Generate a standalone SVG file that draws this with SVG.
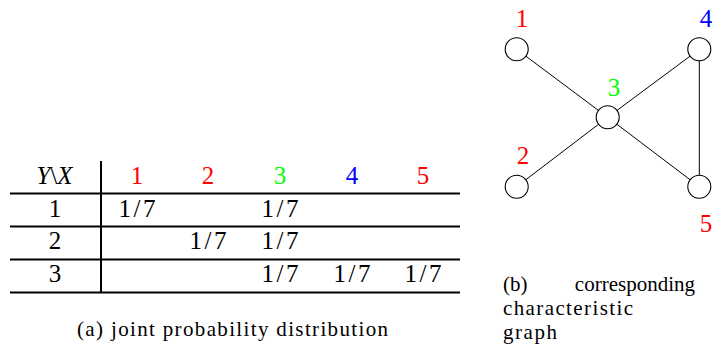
<svg xmlns="http://www.w3.org/2000/svg" width="712" height="350" viewBox="0 0 712 350" font-family="'Liberation Serif', 'DejaVu Serif', serif">
<style>
text{font-family:'Liberation Serif','DejaVu Serif',serif;fill:#000}
.t{font-size:25px;text-anchor:middle}
.c{font-size:21px}
.rule{stroke:#000;stroke-width:2}
.node{fill:#fff;stroke:#000;stroke-width:1.1}
.edge{stroke:#000;stroke-width:1}
.red{fill:#ff0000}.green{fill:#00ff00}.blue{fill:#0000ff}
</style>
<g id="table">
<line class="rule" x1="10" y1="193.5" x2="460" y2="193.5"/>
<line class="rule" x1="10" y1="226.5" x2="460" y2="226.5"/>
<line class="rule" x1="10" y1="259.5" x2="460" y2="259.5"/>
<line class="rule" x1="10" y1="292.5" x2="460" y2="292.5"/>
<line class="rule" x1="101" y1="161" x2="101" y2="293"/>
<text class="t" x="54.5" y="184" font-size="27"><tspan font-style="italic">Y</tspan>\<tspan font-style="italic">X</tspan></text>
<text class="t red" x="137" y="184">1</text>
<text class="t red" x="208" y="184">2</text>
<text class="t green" x="280" y="184">3</text>
<text class="t blue" x="352" y="184">4</text>
<text class="t red" x="423" y="184">5</text>
<text class="t" x="55" y="217">1</text>
<text class="t" x="55" y="249">2</text>
<text class="t" x="55" y="282">3</text>
<text class="t" x="137" y="217" textLength="37">1/7</text>
<text class="t" x="280" y="217" textLength="37">1/7</text>
<text class="t" x="208" y="249" textLength="37">1/7</text>
<text class="t" x="280" y="249" textLength="37">1/7</text>
<text class="t" x="280" y="282" textLength="37">1/7</text>
<text class="t" x="352" y="282" textLength="37">1/7</text>
<text class="t" x="423" y="282" textLength="37">1/7</text>
<text class="c" x="77" y="336" textLength="311">(a) joint probability distribution</text>
</g>
<g id="connectors">
<line class="edge" x1="516.7" y1="49.3" x2="607.7" y2="117.3"/>
<line class="edge" x1="516.7" y1="186.7" x2="607.7" y2="117.3"/>
<line class="edge" x1="699.3" y1="49.3" x2="607.7" y2="117.3"/>
<line class="edge" x1="699.3" y1="186.7" x2="607.7" y2="117.3"/>
<line class="edge" x1="699.3" y1="49.3" x2="699.3" y2="186.7"/>
</g>
<g id="node1"><circle class="node" cx="516.7" cy="49.3" r="11.5"/><text class="t red" x="522" y="27">1</text></g>
<g id="node2"><circle class="node" cx="516.7" cy="186.7" r="11.5"/><text class="t red" x="523" y="164">2</text></g>
<g id="node3"><circle class="node" cx="607.7" cy="117.3" r="11.5"/><text class="t green" x="614" y="96">3</text></g>
<g id="node4"><circle class="node" cx="699.3" cy="49.3" r="11.5"/><text class="t blue" x="706" y="27">4</text></g>
<g id="node5"><circle class="node" cx="699.3" cy="186.7" r="11.5"/><text class="t red" x="706" y="232">5</text></g>
<g id="caption-b">
<text class="c" x="503" y="291">(b)</text>
<text class="c" x="695" y="291" text-anchor="end">corresponding</text>
<text class="c" x="503" y="315" textLength="130">characteristic</text>
<text class="c" x="503" y="339" textLength="54">graph</text>
</g>
</svg>
